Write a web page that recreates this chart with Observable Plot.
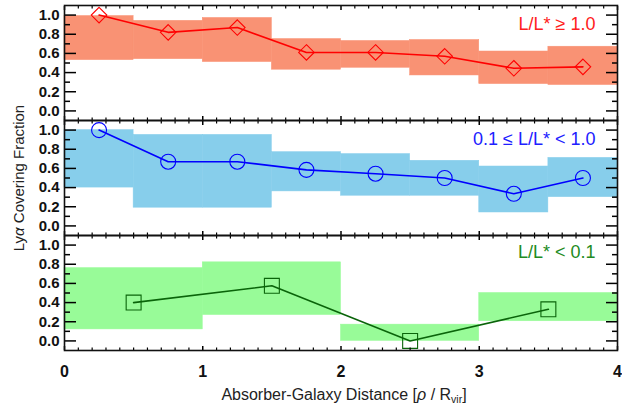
<!DOCTYPE html>
<html><head><meta charset="utf-8">
<script src="https://cdn.jsdelivr.net/npm/d3@7"></script>
<script src="https://cdn.jsdelivr.net/npm/@observablehq/plot@0.6"></script>
<style>
body{margin:0;background:#fff;}
#wrap{position:relative;width:622px;height:404px;font-family:"Liberation Sans",Arial,sans-serif;overflow:hidden;}
#wrap svg{position:absolute;left:0;}
#ytitle{position:absolute;left:18px;top:178px;transform:translate(-50%,-50%) rotate(-90deg);white-space:nowrap;font-size:15px;color:#222;}
#xtitle{position:absolute;left:344px;top:395px;transform:translate(-50%,-50%);white-space:nowrap;font-size:16px;color:#222;}
#xtitle sub{font-size:10.5px;vertical-align:-3px;}
</style></head><body>
<div id="wrap">
  <div id="ytitle">Ly<i>α</i> Covering Fraction</div>
  <div id="xtitle">Absorber-Galaxy Distance [<i>ρ</i> / R<sub>vir</sub>]</div>
</div>
<script>
// ---- data ----
const fineBinStart = [0, 0.5, 1, 1.5, 2, 2.5, 3, 3.5];
const fineBinEnd   = [0.5, 1, 1.5, 2, 2.5, 3, 3.5, 4];
const fineCenters  = [0.25, 0.75, 1.25, 1.75, 2.25, 2.75, 3.25, 3.75];

const redFrac = [1.0, 0.82, 0.87, 0.61, 0.61, 0.57, 0.445, 0.46];
const redLow  = [0.53, 0.54, 0.51, 0.43, 0.45, 0.37, 0.28, 0.27];
const redHigh = [0.99, 0.94, 0.97, 0.75, 0.73, 0.74, 0.62, 0.67];

const blueFrac = [1.0, 0.67, 0.67, 0.585, 0.545, 0.50, 0.335, 0.50];
const blueLow  = [0.40, 0.19, 0.19, 0.36, 0.315, 0.315, 0.14, 0.30];
const blueHigh = [1.0, 0.95, 0.95, 0.77, 0.75, 0.68, 0.62, 0.71];

const coarseBinStart = [0, 1, 2, 3];
const coarseBinEnd   = [1, 2, 3, 4];
const coarseCenters  = [0.5, 1.5, 2.5, 3.5];
const greenFrac = [0.40, 0.575, 0.0, 0.33];
const greenLow  = [0.12, 0.27, 0.0, 0.205];
const greenHigh = [0.76, 0.82, 0.17, 0.50];

const yMajorTicks = [0, 0.2, 0.4, 0.6, 0.8, 1.0];
const yMinorTicks = [0.1, 0.3, 0.5, 0.7, 0.9];
const xMajorTicks = [0, 1, 2, 3, 4];
const xMinorTicks = d3.range(0, 40).filter(i => i % 10 !== 0).map(i => i / 10);

const labels = ["L/L* \u2265 1.0", "0.1 \u2264 L/L* < 1.0", "L/L* < 0.1"];

// ---- build ----
function rows(starts, ends, lows, highs) {
  return starts.map((s, i) => ({x1: s, x2: ends[i], lo: lows[i], hi: highs[i]}));
}
function pts(xs, ys) { return xs.map((x, i) => ({x, y: ys[i]})); }

const blank = () => "";
function panel(o) {
  const marks = [
    Plot.rect(o.boxes, {x1: "x1", x2: "x2", y1: "lo", y2: "hi", fill: o.fill, stroke: o.fill, strokeWidth: 0.5}),
    Plot.line(o.points, {x: "x", y: "y", stroke: o.stroke, strokeWidth: 1.6}),
    Plot.dot(o.points, {x: "x", y: "y", symbol: o.symbol, r: o.r, stroke: o.stroke, strokeWidth: 1.1, fill: "none"}),
    Plot.axisY({anchor: "left", ticks: yMajorTicks, tickSize: -12, tickPadding: 17, tickFormat: d3.format(".1f"),
      label: null, fontSize: 15, fontWeight: "bold", fill: "#111", strokeWidth: 1.5}),
    Plot.axisY({anchor: "left", ticks: yMinorTicks, tickSize: -6, tickFormat: blank, label: null, strokeWidth: 1.5}),
    Plot.axisY({anchor: "right", ticks: yMajorTicks, tickSize: -12, tickFormat: blank, label: null, strokeWidth: 1.5}),
    Plot.axisY({anchor: "right", ticks: yMinorTicks, tickSize: -6, tickFormat: blank, label: null, strokeWidth: 1.5}),
    Plot.axisX({anchor: "top", ticks: xMajorTicks, tickSize: -4, tickFormat: blank, label: null, strokeWidth: 1.5}),
    Plot.axisX({anchor: "top", ticks: xMinorTicks, tickSize: -2.5, tickFormat: blank, label: null, strokeWidth: 1.2}),
    Plot.axisX({anchor: "bottom", ticks: xMajorTicks, tickSize: -4, tickPadding: 19,
      tickFormat: o.xLabels ? d3.format("d") : blank, label: null, fontSize: 16, fontWeight: "bold", fill: "#111", strokeWidth: 1.5}),
    Plot.axisX({anchor: "bottom", ticks: xMinorTicks, tickSize: -2.5, tickFormat: blank, label: null, strokeWidth: 1.2}),
    Plot.frame({stroke: "#111", strokeWidth: 1.6}),
    Plot.text([o.label], {text: d => d, frameAnchor: "top-right", dx: -22, dy: o.labelDy, textAnchor: "end",
      lineAnchor: "middle", fill: o.labelColor, fontSize: 18})
  ];
  const svg = Plot.plot({
    width: 622, height: o.height, marginLeft: 64, marginRight: 5, marginTop: 5, marginBottom: o.marginBottom,
    x: {domain: [0, 4]}, y: {domain: [-0.1, 1.1]},
    style: {background: "none", overflow: "visible", fontFamily: "'Liberation Sans', Arial, sans-serif"},
    marks
  });
  svg.style.top = o.top + "px";
  return svg;
}

const wrap = document.getElementById("wrap");
wrap.appendChild(panel({
  boxes: rows(fineBinStart, fineBinEnd, redLow, redHigh), points: pts(fineCenters, redFrac),
  fill: "#f99274", stroke: "#ff0000", symbol: "diamond2", r: 7, label: labels[0], labelColor: "#ff2020", labelDy: 18.5,
  top: 0, height: 125, marginBottom: 5, xLabels: false
}));
wrap.appendChild(panel({
  boxes: rows(fineBinStart, fineBinEnd, blueLow, blueHigh), points: pts(fineCenters, blueFrac),
  fill: "#87ceeb", stroke: "#0000ff", symbol: "circle", r: 7.5, label: labels[1], labelColor: "#2020ff", labelDy: 18.5,
  top: 115, height: 125, marginBottom: 5, xLabels: false
}));
wrap.appendChild(panel({
  boxes: rows(coarseBinStart, coarseBinEnd, greenLow, greenHigh), points: pts(coarseCenters, greenFrac),
  fill: "#98fb98", stroke: "#0a640a", symbol: "square2", r: 9.5, label: labels[2], labelColor: "#228b22", labelDy: 16.5,
  top: 230, height: 174, marginBottom: 54, xLabels: true
}));
</script>
</body></html>
